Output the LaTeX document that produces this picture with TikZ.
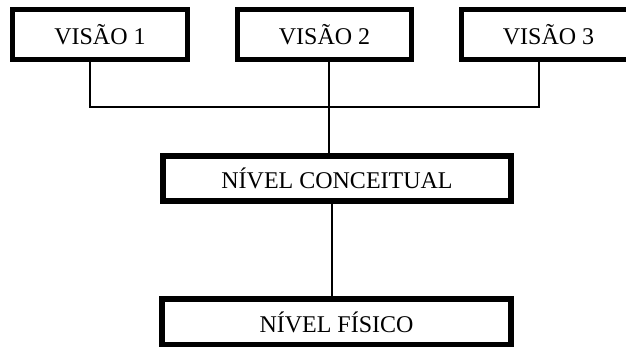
\documentclass[tikz,border=0pt]{standalone}
\usepackage{fontspec}
\setmainfont{Liberation Serif}
\begin{document}
\begin{tikzpicture}[x=1pt,y=-1pt,
  thickbox/.style={draw=black,fill=white,line width=5pt,inner sep=0pt,font=\fontsize{24}{28}\selectfont},
  wide/.style={thickbox,line width=6pt},
  link/.style={draw=black,line width=1.3pt}]
\useasboundingbox (0,0) rectangle (626,347);
\node[thickbox,minimum width=175pt,minimum height=50pt] (v1) at (100,34.5) {VISÃO 1};
\node[thickbox,minimum width=174pt,minimum height=50pt] (v2) at (324.5,34.5) {VISÃO 2};
\node[thickbox,minimum width=174pt,minimum height=50pt] (v3) at (548.5,34.5) {VISÃO 3};
\node[wide,minimum width=348pt,minimum height=45pt] (nc) at (337,178.5) {NÍVEL CONCEITUAL};
\node[wide,minimum width=349pt,minimum height=46pt] (nf) at (336.5,322) {NÍVEL FÍSICO};
\coordinate (j1) at (90,107);
\coordinate (j2) at (329,107);
\coordinate (j3) at (539,107);
\coordinate (k1) at (332,0);
\draw[link] (v1.south -| j1) -- (j1) -- (j3) -- (v3.south -| j3);
\draw[link] (v2.south -| j2) -- (nc.north -| j2);
\draw[link] (nc.south -| k1) -- (nf.north -| k1);
\end{tikzpicture}
\end{document}
